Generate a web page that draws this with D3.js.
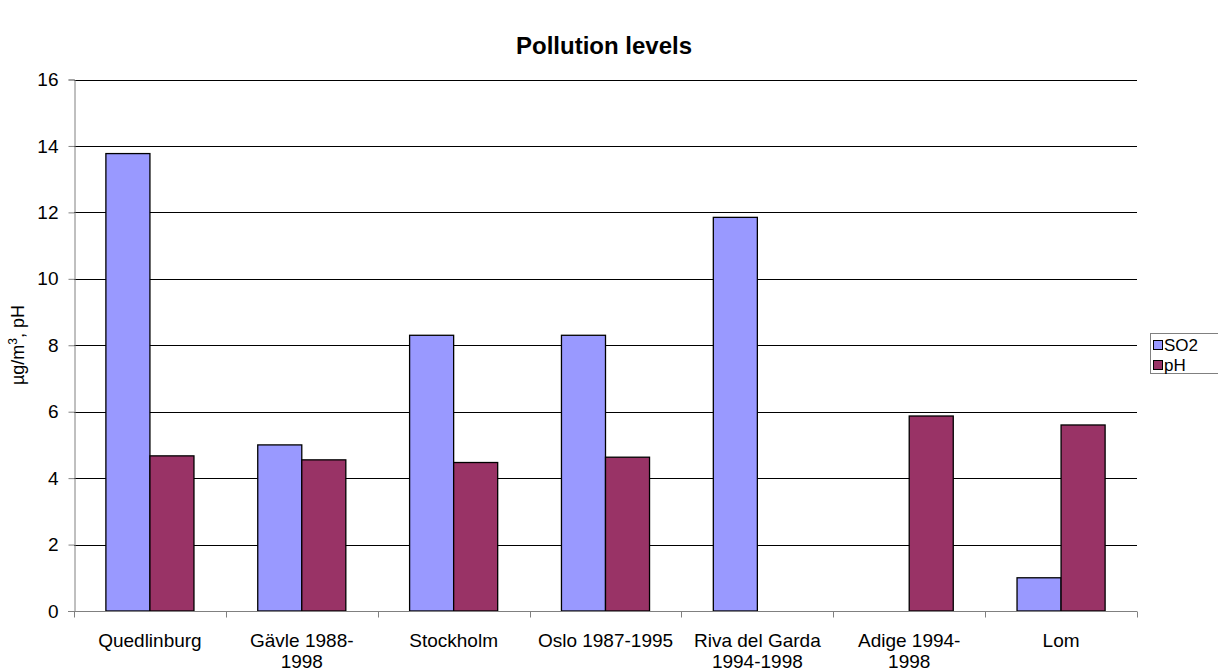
<!DOCTYPE html>
<html>
<head>
<meta charset="utf-8">
<script src="https://cdn.jsdelivr.net/npm/d3@7"></script>
<style>
  body { margin: 0; background: #fff; }
  svg { font-family: "Liberation Sans", Arial, sans-serif; }
</style>
</head>
<body>
<div id="chart"></div>
<script>
var categories = ["Quedlinburg", "Gävle 1988-|1998", "Stockholm", "Oslo 1987-1995", "Riva del Garda|1994-1998", "Adige 1994-|1998", "Lom"];
var seriesNames = ["SO2", "pH"];
var so2Values = [13.77, 5.0, 8.3, 8.3, 11.85, null, 1.0];
var phValues = [4.67, 4.55, 4.47, 4.63, null, 5.87, 5.6];
var yTicks = [0, 2, 4, 6, 8, 10, 12, 14, 16];
var colors = ["#9999ff", "#993366"];

var W = 1218, H = 672;
var margin = { top: 79.5, right: 81, bottom: 61, left: 74 };

var svg = d3.select("#chart").append("svg")
    .attr("width", W)
    .attr("height", H);

var x = d3.scaleBand()
    .domain(categories)
    .range([margin.left, W - margin.right])
    .paddingInner(0.42)
    .paddingOuter(0.21);

var xs = d3.scaleBand()
    .domain(seriesNames)
    .range([0, x.bandwidth()]);

var y = d3.scaleLinear()
    .domain([0, 16])
    .range([H - margin.bottom, margin.top]);

// title
svg.append("text")
    .attr("x", 604)
    .attr("y", 54)
    .attr("text-anchor", "middle")
    .style("font-size", "24px")
    .style("font-weight", "bold")
    .text("Pollution levels");

// gridlines
svg.append("g")
    .selectAll("line")
    .data(yTicks.filter(d => d > 0))
    .join("line")
    .attr("x1", margin.left)
    .attr("x2", W - margin.right)
    .attr("y1", d => Math.round(y(d)) + 0.5)
    .attr("y2", d => Math.round(y(d)) + 0.5)
    .attr("stroke", "#000")
    .attr("stroke-width", 1);

// bars
var data = [];
categories.forEach(function (c, i) {
    if (so2Values[i] != null) data.push({ cat: c, s: "SO2", v: so2Values[i] });
    if (phValues[i] != null) data.push({ cat: c, s: "pH", v: phValues[i] });
});

svg.append("g")
    .selectAll("rect")
    .data(data)
    .join("rect")
    .attr("x", d => x(d.cat) + xs(d.s))
    .attr("y", d => y(d.v))
    .attr("width", xs.bandwidth())
    .attr("height", d => y(0) - y(d.v))
    .attr("fill", d => colors[seriesNames.indexOf(d.s)])
    .attr("stroke", "#000")
    .attr("stroke-width", 1.3);

// y axis
var yAxis = d3.axisLeft(y)
    .tickValues(yTicks)
    .tickSize(6)
    .tickPadding(10);

var yg = svg.append("g")
    .attr("transform", "translate(" + (margin.left + 0.5) + ",0)")
    .call(yAxis);
yg.select(".domain").attr("stroke", "#808080");
yg.selectAll(".tick line").attr("stroke", "#808080");
yg.selectAll(".tick text")
    .style("font-size", "19px")
    .style("font-family", "Liberation Sans, Arial, sans-serif")
    .attr("fill", "#000");

// x axis with boundary ticks
var xg = svg.append("g")
    .attr("transform", "translate(0," + (y(0) + 0.5) + ")");
xg.append("line")
    .attr("x1", margin.left - 6)
    .attr("x2", W - margin.right)
    .attr("stroke", "#808080");

var step = x.step();
var bounds = d3.range(categories.length + 1).map(i => margin.left + i * step);
xg.selectAll(".bt")
    .data(bounds)
    .join("line")
    .attr("class", "bt")
    .attr("x1", d => Math.round(d) + 0.5)
    .attr("x2", d => Math.round(d) + 0.5)
    .attr("y1", 0)
    .attr("y2", 6)
    .attr("stroke", "#808080");

xg.selectAll(".xl")
    .data(categories)
    .join("text")
    .attr("class", "xl")
    .attr("x", d => x(d) + x.bandwidth() / 2)
    .attr("y", 35)
    .attr("text-anchor", "middle")
    .style("font-size", "19px")
    .each(function (d) {
        var lines = d.split("|");
        var t = d3.select(this);
        lines.forEach(function (l, i) {
            t.append("tspan")
                .attr("x", x(d) + x.bandwidth() / 2)
                .attr("dy", i === 0 ? 0 : 21)
                .text(l);
        });
    });

// y label
var yl = svg.append("text")
    .attr("transform", "translate(24,345) rotate(-90)")
    .attr("text-anchor", "middle")
    .style("font-size", "18px");
yl.append("tspan").text("µg/m");
yl.append("tspan").attr("dy", -7).style("font-size", "12px").text("3");
yl.append("tspan").attr("dy", 7).text(", pH");

// legend
var lg = svg.append("g").attr("transform", "translate(1150,333)");
lg.append("rect")
    .attr("x", 0.5)
    .attr("y", 0.5)
    .attr("width", 70)
    .attr("height", 40)
    .attr("fill", "#fff")
    .attr("stroke", "#808080");

var items = lg.selectAll(".li")
    .data(seriesNames)
    .join("g")
    .attr("class", "li")
    .attr("transform", (d, i) => "translate(0," + (i * 20) + ")");
items.append("rect")
    .attr("x", 3.5)
    .attr("y", 7.5)
    .attr("width", 9)
    .attr("height", 9)
    .attr("fill", (d, i) => colors[i])
    .attr("stroke", "#000");
items.append("text")
    .attr("x", 14)
    .attr("y", 18)
    .style("font-size", "17px")
    .text(d => d);
</script>
</body>
</html>
